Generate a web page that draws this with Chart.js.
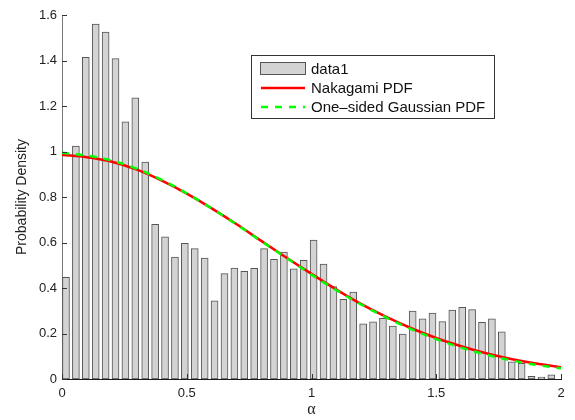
<!DOCTYPE html>
<html><head><meta charset="utf-8">
<script src="https://cdn.jsdelivr.net/npm/chart.js@4/dist/chart.umd.min.js"></script>
<style>html,body{margin:0;padding:0;background:#fff;}</style>
</head><body>
<canvas id="c" width="575" height="420"></canvas>
<script>
// Histogram bins (centers start + width)
const binStart = 0.016;
const binWidth = 0.0397;
const histValues = [0.447,1.024,1.414,1.560,1.525,1.408,1.130,1.236,0.953,0.680,
  0.625,0.536,0.596,0.573,0.531,0.344,0.463,0.488,0.473,0.487,
  0.573,0.526,0.558,0.484,0.522,0.611,0.505,0.406,0.350,0.382,
  0.242,0.251,0.267,0.233,0.198,0.299,0.265,0.290,0.252,0.303,
  0.315,0.305,0.249,0.264,0.207,0.075,0.069,0.012,0.008,0.018];
const curveX = [0,0.1,0.2,0.3,0.4,0.5,0.6,0.7,0.8,0.9,1.0,1.1,1.2,1.3,1.4,1.5,1.6,1.7,1.8,1.9,2.0];
const nakagami = [0.985,0.975,0.955,0.920,0.872,0.815,0.750,0.680,0.606,0.533,0.462,0.393,0.329,0.273,0.223,0.180,0.144,0.113,0.088,0.068,0.052];
const gaussian = [0.995,0.982,0.960,0.924,0.875,0.816,0.750,0.679,0.605,0.532,0.459,0.390,0.327,0.270,0.219,0.175,0.138,0.107,0.082,0.062,0.047];
const xTicks = [0,0.5,1,1.5,2];
const xTickLabels = ['0','0.5','1','1.5','2'];
const yTicks = [0,0.2,0.4,0.6,0.8,1,1.2,1.4,1.6];
const yTickLabels = ['0','0.2','0.4','0.6','0.8','1','1.2','1.4','1.6'];
const seriesLabels = ['data1','Nakagami PDF','One\u2013sided Gaussian PDF'];

const FONT = 'Liberation Sans, Arial, Helvetica, sans-serif';

const inwardTicks = {
  id: 'inwardTicks',
  afterDatasetsDraw(chart) {
    const {ctx, chartArea, scales: {x, y}} = chart;
    ctx.save();
    ctx.strokeStyle = '#333';
    ctx.lineWidth = 1;
    x.ticks.forEach(t => {
      const px = Math.round(x.getPixelForValue(t.value)) + 0.5;
      ctx.beginPath(); ctx.moveTo(px, chartArea.bottom); ctx.lineTo(px, chartArea.bottom - 5); ctx.stroke();
    });
    y.ticks.forEach(t => {
      const py = Math.round(y.getPixelForValue(t.value)) + 0.5;
      ctx.beginPath(); ctx.moveTo(chartArea.left, py); ctx.lineTo(chartArea.left + 5, py); ctx.stroke();
    });
    ctx.restore();
  }
};

const boxLegend = {
  id: 'boxLegend',
  afterDraw(chart) {
    const {ctx} = chart;
    const bx = 251.5, by = 55.5, bw = 243, bh = 63;
    ctx.save();
    ctx.fillStyle = '#fff';
    ctx.fillRect(bx, by, bw, bh);
    ctx.strokeStyle = '#333';
    ctx.lineWidth = 1;
    ctx.strokeRect(bx, by, bw, bh);
    ctx.font = '15px ' + FONT;
    ctx.textBaseline = 'middle';
    ctx.fillStyle = '#111';
    const rows = [69, 88, 107];
    chart.data.datasets.forEach((ds, i) => {
      const ry = rows[i];
      if (ds.type === 'bar') {
        ctx.fillStyle = ds.backgroundColor;
        ctx.fillRect(260.5, ry - 6.5, 45, 12);
        ctx.strokeStyle = ds.borderColor;
        ctx.strokeRect(260.5, ry - 6.5, 45, 12);
      } else {
        ctx.strokeStyle = ds.borderColor;
        ctx.lineWidth = ds.borderWidth;
        ctx.setLineDash(ds.borderDash || []);
        ctx.beginPath(); ctx.moveTo(261, ry); ctx.lineTo(305, ry); ctx.stroke();
        ctx.setLineDash([]);
        ctx.lineWidth = 1;
      }
      ctx.fillStyle = '#111';
      ctx.fillText(ds.label, 311, ry + 1);
    });
    ctx.restore();
  }
};

new Chart(document.getElementById('c').getContext('2d'), {
  type: 'bar',
  data: {
    datasets: [
      {
        type: 'bar', label: seriesLabels[0],
        data: histValues.map((v, i) => ({x: binStart + i * binWidth, y: v})),
        backgroundColor: '#d3d3d3', borderColor: '#555', borderWidth: 1,
        barThickness: 7, borderSkipped: false, order: 3
      },
      {
        type: 'line', label: seriesLabels[1],
        data: curveX.map((x, i) => ({x: x, y: nakagami[i]})),
        borderColor: '#ff0000', borderWidth: 2.5, pointRadius: 0,
        cubicInterpolationMode: 'monotone', fill: false, order: 2
      },
      {
        type: 'line', label: seriesLabels[2],
        data: curveX.map((x, i) => ({x: x, y: gaussian[i]})),
        borderColor: '#00ff00', borderWidth: 2.5, borderDash: [7, 7], pointRadius: 0,
        cubicInterpolationMode: 'monotone', fill: false, order: 1
      }
    ]
  },
  options: {
    responsive: false,
    animation: false,
    devicePixelRatio: 1,
    layout: {padding: {left: 0, right: 14, top: 15, bottom: 0}},
    plugins: {legend: {display: false}, tooltip: {enabled: false}},
    scales: {
      x: {
        type: 'linear', min: 0, max: 2, offset: false,
        grid: {display: false, drawTicks: false},
        border: {display: true, color: '#1a1a1a', width: 1},
        afterBuildTicks: s => { s.ticks = xTicks.map(v => ({value: v})); },
        ticks: {
          font: {family: FONT, size: 13}, color: '#222', padding: 7, maxRotation: 0,
          callback: (v) => xTickLabels[xTicks.indexOf(v)]
        },
        title: {display: true, text: '\u03b1', color: '#222',
          font: {family: 'Liberation Serif, serif', size: 16}, padding: {top: 0, bottom: 1}},
        afterFit: s => { s.height = 41; }
      },
      y: {
        type: 'linear', min: 0, max: 1.6,
        grid: {display: false, drawTicks: false},
        border: {display: true, color: '#777', width: 1},
        afterBuildTicks: s => { s.ticks = yTicks.map(v => ({value: v})); },
        ticks: {
          font: {family: FONT, size: 13}, color: '#222', padding: 5,
          callback: (v) => yTickLabels[yTicks.indexOf(v)]
        },
        title: {display: true, text: 'Probability Density', color: '#222',
          font: {family: FONT, size: 14}, padding: {top: 14, bottom: 0}},
        afterFit: s => { s.width = 62; }
      }
    }
  },
  plugins: [inwardTicks, boxLegend]
});
</script>
</body></html>
